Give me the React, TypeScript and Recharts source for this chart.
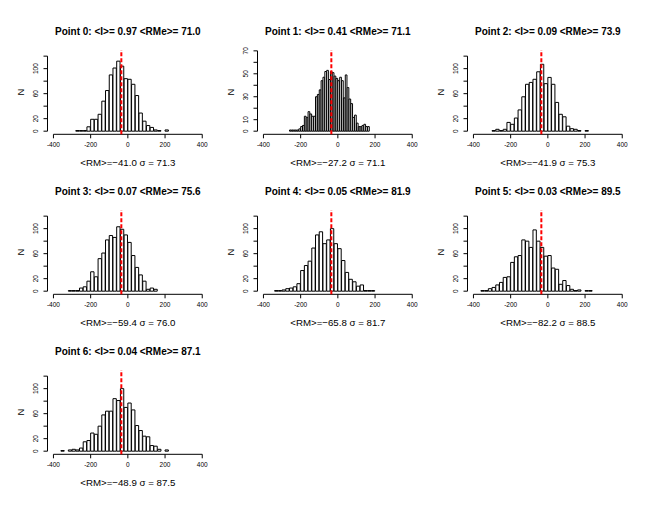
import React from 'react';
import { BarChart, Bar, XAxis, YAxis, ReferenceLine } from 'recharts';

const titles = [
  'Point 0: <I>= 0.97 <RMe>= 71.0',
  'Point 1: <I>= 0.41 <RMe>= 71.1',
  'Point 2: <I>= 0.09 <RMe>= 73.9',
  'Point 3: <I>= 0.07 <RMe>= 75.6',
  'Point 4: <I>= 0.05 <RMe>= 81.9',
  'Point 5: <I>= 0.03 <RMe>= 89.5',
  'Point 6: <I>= 0.04 <RMe>= 87.1',
];
const xLabels = [
  '<RM>=\u221241.0 \u03c3 = 71.3',
  '<RM>=\u221227.2 \u03c3 = 71.1',
  '<RM>=\u221241.9 \u03c3 = 75.3',
  '<RM>=\u221259.4 \u03c3 = 76.0',
  '<RM>=\u221265.8 \u03c3 = 81.7',
  '<RM>=\u221282.2 \u03c3 = 88.5',
  '<RM>=\u221248.9 \u03c3 = 87.5',
];

// histogram bins: first bin left edge, bin width, counts
const binStarts = [-280, -260, -300, -320, -340, -360, -360];
const binWidths = [20, 10, 20, 20, 20, 20, 20];

const counts0 = [1, 1, 1, 7, 19, 19, 27, 48, 65, 90, 101, 112, 104, 84, 83, 75, 57, 29, 16, 9, 6, 2, 1, 0, 2];
const counts1 = [1, 1, 1, 1, 1, 2, 4, 5, 13, 12, 17, 15, 13, 13, 30, 32, 36, 44, 47, 52, 53, 45, 52, 51, 48, 46, 44, 47, 44, 29, 49, 38, 28, 24, 12, 14, 7, 4, 4, 5, 6, 4, 4];
const counts2 = [1, 3, 1, 3, 14, 11, 21, 34, 55, 75, 78, 83, 95, 107, 76, 86, 75, 46, 27, 23, 8, 4, 3, 1, 0, 1];
const counts3 = [1, 1, 1, 5, 7, 16, 31, 23, 52, 61, 82, 89, 86, 103, 99, 90, 78, 57, 38, 26, 16, 3, 5, 3];
const counts4 = [1, 1, 2, 4, 5, 7, 12, 33, 41, 48, 69, 90, 95, 76, 82, 100, 76, 68, 49, 30, 19, 15, 8, 10, 1, 1, 1];
const counts5 = [1, 1, 4, 6, 10, 14, 22, 23, 46, 55, 57, 82, 80, 70, 98, 80, 70, 56, 57, 37, 35, 11, 17, 9, 3, 1, 2, 0, 1, 1];
const counts6 = [1, 0, 2, 3, 2, 5, 15, 17, 29, 27, 40, 58, 64, 64, 84, 81, 100, 70, 77, 66, 41, 33, 24, 23, 9, 8, 3, 0, 2];
const allCounts = [counts0, counts1, counts2, counts3, counts4, counts5, counts6];

const xTicks = [-400, -200, 0, 200, 400];
const xLim = [-400, 400];
const yTicksMain = [0, 20, 40, 60, 80, 100, 120];
const yLabelsMain = [0, 20, 60, 100];
const yTicksP1 = [0, 10, 20, 30, 40, 50, 60, 70];
const yLabelsP1 = [0, 10, 30, 50, 70];
const yMax = [125, 68.1, 125, 125, 125, 125, 125];
const markerX = -35;

const FONT = '"Liberation Sans", Arial, Helvetica, sans-serif';

// layout
const CELL_W = 210;
const CELL_H = 160;
const W = 210;
const H = 170;
const PLOT_LEFT = 47.5;
const PLOT_RIGHT = 208.2;
const PLOT_TOP = 49.9;
const PLOT_BOTTOM = 134.3;

const makeYTick = (labels: number[]) => (props: any) => {
  const { x, y, payload } = props;
  if (!labels.includes(payload.value)) return <g />;
  return (
    <text
      transform={`translate(${x - 3.8},${y}) rotate(-90)`}
      textAnchor="middle"
      fontSize={6.5}
      fill="#000"
      fontFamily={FONT}
    >
      {payload.value}
    </text>
  );
};

function Panel({ idx }: { idx: number }) {
  const row = Math.floor(idx / 3);
  const col = idx % 3;
  const counts = allCounts[idx];
  const bw = binWidths[idx];
  const start = binStarts[idx];
  const data = counts
    .map((n, i) => ({ x: start + bw * (i + 0.5), n }))
    .filter((d) => d.n > 0);
  const ext = (xLim[1] - xLim[0]) * 0.04;
  const xDomain = [xLim[0] - ext, xLim[1] + ext];
  const yDomain = [-0.04 * yMax[idx], 1.04 * yMax[idx]];
  const pxPerUnit = (PLOT_RIGHT - PLOT_LEFT) / (xDomain[1] - xDomain[0]);
  const barPx = bw * pxPerUnit;
  const yTicks = idx === 1 ? yTicksP1 : yTicksMain;
  const yLabels = idx === 1 ? yLabelsP1 : yLabelsMain;
  const yTop = yTicks[yTicks.length - 1];
  const cx = (PLOT_LEFT + PLOT_RIGHT) / 2;

  return (
    <div style={{ position: 'absolute', left: col * CELL_W, top: row * CELL_H, width: W, height: H }}>
      <BarChart
        width={W}
        height={H}
        data={data}
        margin={{ top: PLOT_TOP, right: W - PLOT_RIGHT, bottom: 0, left: 0 }}
        barCategoryGap={0}
        barGap={0}
      >
        <XAxis
          type="number"
          dataKey="x"
          domain={xDomain}
          ticks={xTicks}
          interval={0}
          allowDataOverflow
          axisLine={false}
          tickLine={{ stroke: '#000', strokeWidth: 1 }}
          tickSize={4}
          tickMargin={3.7}
          height={H - PLOT_BOTTOM}
          tick={{ fontSize: 6.5, fill: '#000', fontFamily: FONT }}
        />
        <YAxis
          type="number"
          domain={yDomain}
          ticks={yTicks}
          interval={0}
          allowDataOverflow
          axisLine={false}
          tickLine={{ stroke: '#000', strokeWidth: 1 }}
          tickSize={4}
          tickMargin={2}
          width={PLOT_LEFT}
          tick={makeYTick(yLabels)}
        />
        <Bar dataKey="n" fill="#ffffff" stroke="#000" strokeWidth={1} barSize={barPx} isAnimationActive={false} />
        <ReferenceLine
          segment={[{ x: xLim[0], y: yDomain[0] }, { x: xLim[1], y: yDomain[0] }]}
          stroke="#000"
          strokeWidth={1}
          ifOverflow="visible"
        />
        <ReferenceLine
          segment={[{ x: xDomain[0], y: 0 }, { x: xDomain[0], y: yTop }]}
          stroke="#000"
          strokeWidth={1}
          ifOverflow="visible"
        />
        <ReferenceLine x={markerX} stroke="#ff0000" strokeWidth={2} strokeDasharray="4 2" ifOverflow="visible" />
      </BarChart>
      <svg
        width={W}
        height={H}
        style={{ position: 'absolute', left: 0, top: 0, pointerEvents: 'none', overflow: 'visible' }}
      >
        <text x={cx} y={35} textAnchor="middle" fontSize={10} fontWeight="bold" fontFamily={FONT} fill="#000">
          {titles[idx]}
        </text>
        <text x={cx} y={165.5} textAnchor="middle" fontSize={9.7} fontFamily={FONT} fill="#000">
          {xLabels[idx]}
        </text>
        <text
          transform={`translate(23.5, ${(PLOT_TOP + PLOT_BOTTOM) / 2}) rotate(-90)`}
          textAnchor="middle"
          fontSize={9.5}
          fontFamily={FONT}
          fill="#000"
        >
          N
        </text>
      </svg>
    </div>
  );
}

export default function App() {
  return (
    <div style={{ position: 'absolute', left: 0, top: 0, width: 660, height: 510, background: '#fff', overflow: 'hidden' }}>
      {titles.map((_, i) => (
        <Panel key={i} idx={i} />
      ))}
    </div>
  );
}
